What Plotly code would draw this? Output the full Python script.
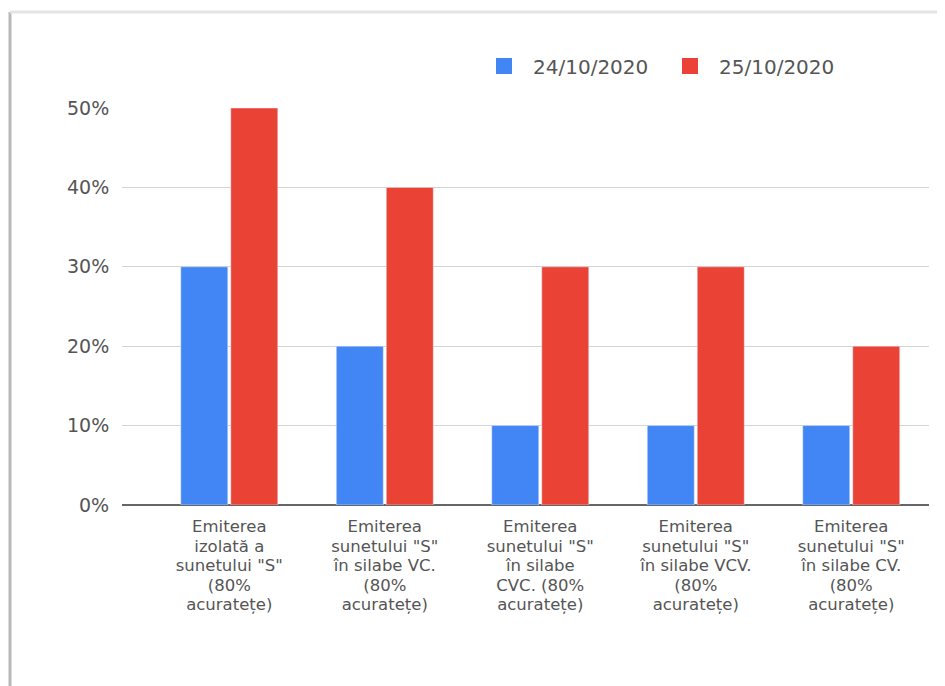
import plotly.graph_objects as go

category_lines = [
    ["Emiterea", "izolată a", "sunetului \"S\"", "(80%", "acuratețe)"],
    ["Emiterea", "sunetului \"S\"", "în silabe VC.", "(80%", "acuratețe)"],
    ["Emiterea", "sunetului \"S\"", "în silabe", "CVC. (80%", "acuratețe)"],
    ["Emiterea", "sunetului \"S\"", "în silabe VCV.", "(80%", "acuratețe)"],
    ["Emiterea", "sunetului \"S\"", "în silabe CV.", "(80%", "acuratețe)"],
]
series_names = ["24/10/2020", "25/10/2020"]
values_2410 = [0.30, 0.20, 0.10, 0.10, 0.10]
values_2510 = [0.50, 0.40, 0.30, 0.30, 0.20]
colors = ["#4285F4", "#EA4335"]
y_ticks = [0, 0.1, 0.2, 0.3, 0.4, 0.5]
y_tick_labels = ["0%", "10%", "20%", "30%", "40%", "50%"]

FONT = "DejaVu Sans, Liberation Sans, Arial"
TXT = "#555555"

# slightly larger glyphs with compact line spacing (spacing follows the outer tick font size)
categories = ["<br>".join(f"<span style='font-size:16.5px'>{l}</span>" for l in lines)
              for lines in category_lines]
idx = list(range(len(categories)))

fig = go.Figure()
fig.add_trace(go.Bar(x=idx, y=values_2410, name=series_names[0],
                     marker_color=colors[0], showlegend=False))
fig.add_trace(go.Bar(x=idx, y=values_2510, name=series_names[1],
                     marker_color=colors[1], showlegend=False))
# legend entries with larger square swatches
for name, col in zip(series_names, colors):
    fig.add_trace(go.Scatter(x=[None], y=[None], mode="markers", name=name,
                             marker=dict(symbol="square", size=18, color=col)))

W, H = 945, 686
OFF = 8  # page body margin
ml, mr, mt, mb = 114, 24, 100, 189
pw = W - ml - mr
ph = H - mt - mb

def px2x(p):
    return (p - OFF - ml) / pw

def px2y(p):
    return (H - mb - (p - OFF)) / ph

fig.update_layout(
    width=W, height=H,
    margin=dict(l=ml, r=mr, t=mt, b=mb),
    paper_bgcolor="white", plot_bgcolor="white",
    barmode="group", bargap=0.357, bargroupgap=0.06,
    font=dict(family=FONT, size=15, color=TXT),
    showlegend=True,
    legend=dict(orientation="h", x=px2x(475), y=px2y(66), xanchor="left", yanchor="middle",
                font=dict(family=FONT, size=20, color=TXT), itemwidth=48,
                entrywidth=123, entrywidthmode="pixels",
                traceorder="normal", bgcolor="rgba(0,0,0,0)"),
    xaxis=dict(
        tickmode="array", tickvals=idx, ticktext=categories,
        range=[-0.69, 4.5], showgrid=False, zeroline=False,
        showline=False, ticks="", tickangle=0, ticklabelstandoff=11,
        tickfont=dict(family=FONT, size=15, color=TXT),
    ),
    yaxis=dict(
        tickmode="array", tickvals=y_ticks, ticktext=y_tick_labels,
        range=[0, 0.5], showgrid=True, gridcolor="#d4d4d4", gridwidth=1,
        zeroline=True, zerolinecolor="#666666", zerolinewidth=2,
        ticks="outside", ticklen=8, tickcolor="white",
        tickfont=dict(family=FONT, size=19, color=TXT),
    ),
    shapes=[
        dict(type="line", xref="paper", yref="paper",
             x0=px2x(10), x1=px2x(10), y0=px2y(12), y1=px2y(700),
             line=dict(color="#b8b8b8", width=3)),
        dict(type="line", xref="paper", yref="paper",
             x0=px2x(10), x1=px2x(960), y0=px2y(12), y1=px2y(12),
             line=dict(color="#e4e4e4", width=3)),
    ],
)

fig.write_html("out.html")
